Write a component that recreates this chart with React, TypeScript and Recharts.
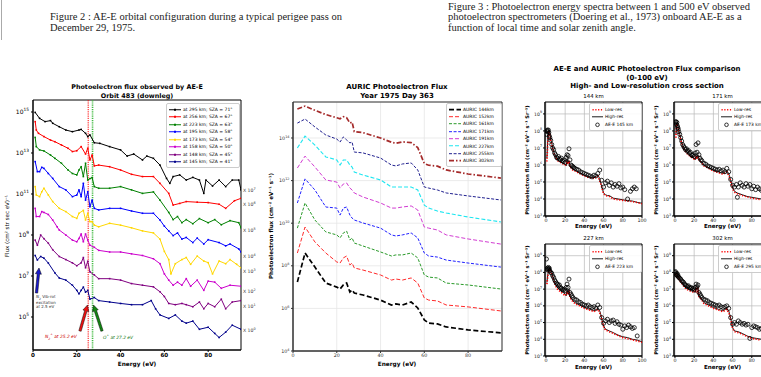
import React from 'react';
import {
  LineChart, Line, XAxis, YAxis, CartesianGrid, ReferenceLine, ReferenceArea,
  ComposedChart, Scatter,
} from 'recharts';

// every point is [energy eV, log10 flux as plotted]
type P = [number, number];

const FONT = '"DejaVu Sans", Verdana, sans-serif';
const SERIF = '"Liberation Serif", "Times New Roman", serif';

// ---------- AE-E orbit 483 (downleg), curves already offset by x10^n ----------
const aee295: P[] = [[1,14.98],[3,14.69],[5.5,14.53],[8,14.58],[9,14.45],[12,14.28],[15,14.12],[18,14.04],[21,14.12],[22,14.15],[24,13.96],[25,13.8],[26,13.88],[28,13.5],[30.5,13.47],[35,13.31],[40,13.15],[43,12.85],[46,12.95],[50,12.66],[52,12.85],[55,12.74],[58,12.41],[61,11.76],[62.5,11.52],[64,11.85],[67,11.93],[70,11.68],[73,11.81],[76,11.68],[78,11.03],[79,11.68],[82,11.39],[85,11.68],[88,11.36],[91,11.68],[94,11.68],[95,11.2]];
const aee256: P[] = [[1,14.53],[1.5,14.12],[2.5,13.96],[5,13.8],[8,13.63],[10,13.55],[13,13.39],[16,13.23],[18,13.07],[20,13.11],[22,13.31],[24,12.95],[25,13.23],[26,12.66],[27,12.9],[28,12.37],[30,12.41],[35,12.33],[40,12.17],[45,11.96],[50,11.85],[55,11.85],[58,11.52],[62,11.03],[64,10.46],[67,10.54],[70,10.63],[75,10.6],[80,10.58],[85,10.5],[88,10.3],[92,10.67],[95,10.79]];
const aee223: P[] = [[1,13.76],[1.5,13.31],[3,13.15],[5,13.1],[8,12.9],[10,12.74],[13,12.5],[16,12.17],[18,12.0],[20,11.93],[21,12.17],[22,12.33],[23,11.85],[24,12.5],[25,11.68],[26,11.75],[27,11.8],[28,11.36],[30,11.28],[35,11.28],[40,11.36],[45,11.2],[50,11.03],[55,11.1],[58,10.7],[62,10.1],[64,9.75],[66,9.9],[68,9.6],[70,9.75],[73,9.55],[76,9.8],[80,9.6],[83,9.75],[86,9.5],[90,9.7],[94,9.6],[95,9.35]];
const aee195: P[] = [[1,12.58],[2,12.09],[3,12.09],[4,12.3],[5,12.25],[7,12.0],[9,11.76],[12,11.36],[15,11.2],[18,10.87],[20,10.95],[21,11.2],[22,10.87],[23,11.52],[24,10.7],[25,11.11],[26,10.38],[27,10.7],[28,10.3],[30,10.22],[35,10.3],[40,10.3],[45,10.17],[50,10.06],[55,10.06],[58,9.73],[60,9.43],[62,9.2],[64,8.97],[66,9.1],[68,8.8],[70,8.88],[73,8.63],[75,8.85],[78,8.56],[80,8.77],[85,8.63],[88,8.47],[90,8.56],[94,8.32],[95,8.17]];
const aee173: P[] = [[1,11.36],[1.5,10.95],[3,10.87],[4,11.11],[5,11.28],[7,10.95],[9,10.63],[12,10.3],[15,10.14],[18,9.9],[20,9.81],[21,10.06],[23,10.2],[24,9.73],[25,10.06],[26,9.65],[27,9.65],[28,9.48],[30,9.4],[35,9.57],[40,9.48],[45,9.35],[50,9.2],[55,9.1],[58,8.8],[60,8.2],[62,7.8],[63,7.1],[65,7.6],[68,7.8],[70,7.9],[72,7.57],[75,7.97],[78,7.73],[80,7.65],[82,7.1],[85,7.73],[88,7.6],[90,7.8],[93,7.57],[95,7.4]];
const aee158: P[] = [[1,10.3],[1.5,9.9],[3,9.9],[4,10.14],[5,10.1],[7,10.0],[9,9.73],[11,9.4],[12,9.24],[15,9.0],[18,8.75],[20,8.67],[21,8.83],[22,9.05],[23,8.67],[24,9.05],[25,8.75],[26,8.5],[28,8.4],[30,8.25],[35,8.17],[40,8.17],[45,8.08],[50,8.0],[55,7.84],[58,7.6],[60,7.1],[62,6.8],[64,6.55],[66,6.7],[68,6.55],[70,6.87],[72,6.5],[75,6.8],[78,6.3],[80,6.75],[83,6.7],[86,6.4],[90,6.55],[95,6.5]];
const aee148: P[] = [[1,8.75],[2,8.5],[3.5,9.0],[5,8.82],[7,8.6],[9,8.28],[12,7.95],[15,7.8],[18,7.64],[20,7.5],[22,7.64],[23,7.9],[24,7.4],[25,7.72],[26,7.2],[28,7.05],[30,6.87],[35,6.87],[40,6.8],[45,6.63],[50,6.55],[55,6.47],[58,6.23],[60,6.0],[62,5.66],[65,5.6],[68,5.66],[70,5.6],[73,5.5],[76,5.73],[78,5.4],[80,5.66],[83,5.5],[86,5.87],[88,5.4],[91,5.73],[95,5.8]];
const aee145: P[] = [[1,8.0],[2,7.78],[3.5,7.95],[5,7.87],[7,7.63],[10,7.15],[12,6.9],[15,6.8],[18,6.55],[20,6.3],[21,6.13],[22,6.3],[23,6.46],[24,6.21],[25,6.3],[26,5.87],[28,5.95],[30,5.8],[35,5.73],[40,5.66],[45,5.6],[50,5.6],[54,5.8],[56,5.4],[58,5.1],[62,4.93],[65,5.1],[68,4.8],[70,4.7],[73,4.8],[76,4.4],[80,4.5],[83,4.2],[85,4.0],[88,4.26],[91,4.6],[95,4.4]];

const LEFT_SERIES = [
  { label: 'at 295 km; SZA = 71°', color: '#000000', data: aee295 },
  { label: 'at 256 km; SZA = 67°', color: '#ff0000', data: aee256 },
  { label: 'at 223 km; SZA = 63°', color: '#008000', data: aee223 },
  { label: 'at 195 km; SZA = 58°', color: '#0000ff', data: aee195 },
  { label: 'at 173 km; SZA = 54°', color: '#ffd700', data: aee173 },
  { label: 'at 158 km; SZA = 50°', color: '#cc00cc', data: aee158 },
  { label: 'at 148 km; SZA = 45°', color: '#800080', data: aee148 },
  { label: 'at 145 km; SZA = 41°', color: '#00008b', data: aee145 },
];
const offsetExp = [7, 6, 5, 4, 3, 2, 1, 0];
const offsetLabelY = [191, 205, 231, 257, 272, 292, 307, 331];

// ---------- AURIC model, year 1975 day 363 ----------
const auricEnergy = [2, 5.5, 10, 15, 20, 21.5, 23, 24.5, 26, 27, 28, 32, 40, 45, 47, 50, 54, 57, 60, 62, 66, 70, 80, 95];
const auric144 = [7.24, 8.6, 7.94, 7.19, 7.0, 6.91, 7.1, 7.19, 6.77, 6.86, 6.72, 6.63, 6.39, 6.16, 6.21, 6.16, 6.3, 6.02, 5.46, 5.31, 5.27, 5.13, 4.99, 4.85];
const auric152 = [8.6, 9.82, 9.12, 8.6, 8.18, 8.13, 8.37, 8.46, 8.04, 8.13, 7.9, 7.8, 7.57, 7.33, 7.38, 7.33, 7.43, 7.19, 6.49, 6.39, 6.35, 6.16, 6.07, 5.88];
const auric161 = [9.77, 10.95, 10.15, 9.59, 9.45, 9.31, 9.54, 9.63, 9.21, 9.31, 9.07, 8.93, 8.65, 8.46, 8.51, 8.51, 8.6, 8.37, 7.57, 7.47, 7.43, 7.19, 7.1, 6.91];
const auric171 = [10.95, 12.08, 11.56, 10.76, 10.71, 10.38, 10.71, 10.76, 10.38, 10.24, 10.15, 10.01, 9.77, 9.45, 9.4, 9.45, 9.54, 9.31, 8.6, 8.46, 8.41, 8.27, 8.13, 7.94];
const auric191 = [12.59, 13.15, 12.64, 12.03, 11.93, 11.65, 11.84, 11.89, 11.65, 11.56, 11.42, 11.23, 10.95, 10.71, 10.71, 10.76, 10.81, 10.62, 9.82, 9.77, 9.68, 9.45, 9.26, 9.02];
const auric227 = [13.53, 14.09, 13.67, 13.11, 12.97, 12.73, 12.97, 12.97, 12.73, 12.64, 12.4, 12.26, 12.03, 11.7, 11.7, 11.7, 11.7, 11.56, 10.85, 10.71, 10.57, 10.48, 10.29, 10.06];
const auric255 = [14.7, 14.89, 14.52, 14.14, 13.95, 13.81, 14.05, 13.91, 13.77, 13.81, 13.34, 13.3, 13.06, 12.73, 12.69, 12.78, 12.83, 12.5, 11.7, 11.65, 11.56, 11.42, 11.28, 11.09];
const auric302 = [15.36, 15.5, 15.3, 15.1, 14.95, 14.9, 15.0, 14.95, 14.7, 14.75, 14.3, 14.25, 14.0, 13.8, 13.75, 13.82, 13.78, 13.55, 12.8, 12.72, 12.68, 12.5, 12.31, 12.12];

const AURIC_SERIES = [
  { label: 'AURIC 144km', color: '#000000', data: auric144, dash: '5 2.5', w: 1.7 },
  { label: 'AURIC 152km', color: '#ff2a2a', data: auric152, dash: '4 2', w: 1 },
  { label: 'AURIC 161km', color: '#2a9a2a', data: auric161, dash: '3 1.6', w: 1 },
  { label: 'AURIC 171km', color: '#2020ff', data: auric171, dash: '3 1.6', w: 1 },
  { label: 'AURIC 191km', color: '#d23cd2', data: auric191, dash: '4 2', w: 1 },
  { label: 'AURIC 227km', color: '#1ee6f0', data: auric227, dash: '4 2', w: 1.1 },
  { label: 'AURIC 255km', color: '#20208f', data: auric255, dash: '3 1.6', w: 1 },
  { label: 'AURIC 302km', color: '#a52a2a', data: auric302, dash: '5 2 1.5 2', w: 1.7 },
];

// ---------- AE-E vs AURIC comparison panels ----------
const hi144: P[] = [[1,6.4],[2,7.6],[3,8.0],[4,7.9],[5,7.5],[6,7.3],[7,7.0],[8,6.8],[9,6.6],[10,6.5],[12,6.3],[15,6.2],[18,6.1],[20,6.05],[21,5.95],[22,6.35],[23,6.1],[24,6.25],[25,5.95],[27,5.85],[28,5.75],[30,5.7],[35,5.55],[40,5.4],[45,5.3],[50,5.25],[54,5.4],[56,5.2],[57,4.95],[59,4.55],[60,4.35],[62,4.25],[64,4.2],[66,4.2],[70,4.05],[75,4.0],[80,3.95],[85,3.9],[90,3.88],[95,3.8],[100,3.75]];
const lo144: P[] = [[1,6.2],[2,7.4],[3,7.9],[4,7.8],[5,7.4],[6,7.2],[8,6.7],[10,6.45],[12,6.25],[15,6.15],[18,6.05],[20,6.0],[22,6.2],[23,6.05],[24,6.15],[25,5.9],[28,5.7],[30,5.65],[35,5.5],[40,5.35],[45,5.25],[50,5.2],[54,5.35],[57,4.9],[60,4.3],[62,4.2],[66,4.15],[70,4.0],[80,3.92],[90,3.85],[100,3.72]];
const obs145: P[] = [[0.5,7.8],[1,8.0],[1.5,8.05],[2,7.95],[2.5,8.05],[3,7.9],[3.5,7.7],[4,7.6],[5,7.45],[6,7.2],[7,7.0],[8,6.9],[9,6.7],[10,6.6],[11,6.45],[12,6.4],[13,6.5],[14,6.35],[15,6.3],[16,6.4],[17,6.25],[18,6.2],[19,6.3],[20,6.15],[21,6.45],[22,6.6],[23,6.55],[24,6.95],[25,6.3],[26,6.0],[27,5.95],[28,5.9],[29,5.85],[30,5.8],[32,5.75],[34,5.7],[36,5.6],[38,5.55],[40,5.5],[42,5.45],[44,5.4],[46,5.35],[48,5.3],[50,5.4],[52,5.35],[54,5.5],[56,5.7],[58,5.1],[60,4.7],[62,4.95],[64,5.05],[66,4.8],[68,4.95],[70,4.7],[72,4.85],[74,4.75],[76,4.9],[78,4.65],[80,4.7],[82,4.55],[85,4.0],[88,4.45],[90,4.6],[92,4.7],[94,4.6]];

const hi171: P[] = [[1,7.8],[1.5,8.4],[2,8.5],[3,8.3],[4,8.0],[5,7.8],[6,7.55],[7,7.35],[8,7.15],[9,7.0],[10,6.9],[12,6.75],[15,6.6],[18,6.45],[20,6.4],[21,6.3],[22,6.55],[23,6.4],[24,6.6],[25,6.35],[27,6.2],[28,6.15],[30,6.0],[35,5.85],[40,5.7],[45,5.6],[50,5.5],[54,5.65],[56,5.5],[57,5.3],[59,4.9],[60,4.65],[62,4.45],[65,4.35],[70,4.25],[75,4.15],[80,4.1],[85,4.05],[90,4.0],[95,3.95],[100,3.9]];
const lo171: P[] = [[1,7.6],[1.5,8.3],[2,8.4],[3,8.2],[4,7.9],[5,7.7],[6,7.45],[8,7.1],[10,6.85],[12,6.7],[15,6.55],[18,6.4],[20,6.35],[22,6.5],[23,6.35],[24,6.55],[25,6.3],[28,6.1],[30,5.95],[35,5.8],[40,5.65],[45,5.55],[50,5.45],[54,5.6],[57,5.25],[60,4.6],[62,4.4],[65,4.3],[70,4.2],[80,4.05],[90,3.95],[100,3.85]];
const obs173: P[] = [[0.5,8.5],[1,8.55],[1.5,8.4],[2,8.5],[2.5,8.3],[3,8.2],[3.5,8.1],[4,7.95],[5,7.8],[6,7.6],[7,7.4],[8,7.2],[9,7.1],[10,7.0],[11,6.9],[12,6.95],[13,6.8],[14,6.85],[15,6.7],[16,6.75],[17,6.6],[18,6.55],[19,6.6],[20,6.5],[21,6.7],[22,7.2],[23,6.75],[24,7.3],[25,6.6],[26,6.4],[27,6.3],[28,6.25],[30,6.1],[32,6.05],[34,5.95],[36,5.9],[38,5.85],[40,5.8],[42,5.75],[44,5.7],[46,5.75],[48,5.65],[50,5.7],[52,5.6],[54,5.8],[56,5.6],[58,5.15],[60,4.8],[62,4.7],[64,4.85],[65,4.1],[66,4.7],[68,4.95],[70,4.8],[72,4.7],[74,4.9],[76,4.75],[78,4.85],[80,4.6],[82,4.75],[84,4.55],[86,4.7],[88,4.6],[90,4.5]];

const hi227: P[] = [[1,7.4],[2,7.9],[3,8.2],[4,8.3],[5,8.15],[6,8.0],[7,7.8],[8,7.6],[9,7.45],[10,7.3],[12,7.1],[15,6.9],[18,6.8],[20,6.7],[21,6.6],[22,6.95],[23,6.75],[24,7.0],[25,6.55],[27,6.4],[28,6.3],[30,6.2],[35,6.05],[40,5.9],[45,5.8],[50,5.7],[54,5.85],[56,5.7],[57,5.5],[59,5.0],[60,4.8],[62,4.6],[66,4.5],[70,4.4],[75,4.25],[80,4.15],[85,4.1],[90,4.0],[95,3.95],[100,3.85]];
const lo227: P[] = [[1,7.3],[2,7.8],[3,8.1],[4,8.2],[5,8.05],[6,7.9],[8,7.5],[10,7.2],[12,7.0],[15,6.85],[18,6.7],[20,6.6],[22,6.85],[23,6.65],[24,6.9],[25,6.5],[28,6.25],[30,6.15],[35,6.0],[40,5.85],[45,5.75],[50,5.65],[54,5.8],[57,5.45],[60,4.75],[62,4.55],[66,4.45],[70,4.35],[80,4.1],[90,3.97],[100,3.82]];
const obs223: P[] = [[0.5,8.8],[1,8.2],[1.5,8.25],[2,8.15],[2.5,8.3],[3,8.2],[3.5,8.25],[4,8.1],[5,8.0],[6,7.95],[7,7.8],[8,7.7],[9,7.55],[10,7.45],[11,7.35],[12,7.3],[13,7.2],[14,7.25],[15,7.1],[16,7.05],[17,7.0],[18,6.95],[19,7.0],[20,6.9],[21,7.1],[22,7.3],[23,7.1],[24,7.6],[25,6.8],[26,6.7],[27,6.6],[28,6.5],[30,6.4],[32,6.35],[34,6.25],[36,6.2],[38,6.1],[40,6.05],[42,6.0],[44,6.05],[46,5.95],[48,5.9],[50,5.95],[52,5.85],[54,6.05],[56,5.9],[58,5.3],[60,4.95],[62,5.1],[64,5.2],[66,5.0],[68,5.1],[70,5.15],[72,4.95],[74,5.05],[76,4.9],[78,4.85],[80,4.6],[82,4.8],[84,4.7],[86,4.85],[88,4.75],[90,4.65],[92,4.7],[95,4.2]];

const hi302: P[] = [[0.5,8.0],[2,7.9],[3,7.8],[5,7.6],[7,7.45],[10,7.2],[12,7.1],[15,7.0],[18,6.95],[20,6.9],[21,6.8],[22,7.1],[23,6.95],[24,7.15],[25,6.6],[27,6.5],[28,6.4],[30,6.2],[35,6.05],[40,5.9],[45,5.8],[50,5.7],[54,5.85],[56,5.7],[57,5.5],[59,5.0],[60,4.7],[62,4.5],[66,4.45],[70,4.35],[75,4.2],[80,4.1],[85,4.05],[90,4.0],[95,3.95],[100,3.9]];
const lo302: P[] = [[0.5,7.9],[2,7.8],[3,7.7],[5,7.5],[7,7.35],[10,7.1],[12,7.0],[15,6.9],[18,6.85],[20,6.8],[22,7.0],[23,6.85],[24,7.05],[25,6.55],[28,6.35],[30,6.15],[35,6.0],[40,5.85],[45,5.75],[50,5.65],[54,5.8],[57,5.45],[60,4.65],[62,4.45],[66,4.4],[70,4.3],[80,4.05],[90,3.95],[100,3.85]];
const obs295: P[] = [[0,8.0],[0.5,8.05],[1,7.9],[1.5,7.85],[2,7.95],[2.5,7.8],[3,7.85],[3.5,7.75],[4,7.7],[5,7.65],[6,7.6],[7,7.5],[8,7.45],[9,7.4],[10,7.3],[11,7.25],[12,7.2],[13,7.15],[14,7.2],[15,7.1],[16,7.05],[17,7.1],[18,7.0],[19,7.05],[20,6.95],[21,7.1],[22,7.3],[23,7.15],[24,7.25],[25,6.8],[26,6.7],[27,6.6],[28,6.5],[30,6.4],[32,6.35],[34,6.3],[36,6.2],[38,6.15],[40,6.1],[42,6.05],[44,6.0],[46,6.05],[48,5.95],[50,5.9],[52,5.95],[54,6.0],[56,5.85],[58,5.3],[60,4.9],[62,5.0],[64,4.9],[66,5.1],[68,5.0],[70,4.9],[72,4.95],[74,4.85],[76,4.9],[78,4.05],[80,4.7],[82,4.8],[84,4.75],[86,4.7],[88,4.6],[90,4.65]];

const PANELS = [
  { title: '144 km', obsLabel: 'AE-E 145 km', hi: hi144, lo: lo144, obs: obs145, col: 0, row: 0 },
  { title: '171 km', obsLabel: 'AE-E 173 km', hi: hi171, lo: lo171, obs: obs173, col: 1, row: 0 },
  { title: '227 km', obsLabel: 'AE-E 223 km', hi: hi227, lo: lo227, obs: obs223, col: 0, row: 1 },
  { title: '302 km', obsLabel: 'AE-E 295 km', hi: hi302, lo: lo302, obs: obs295, col: 1, row: 1 },
];
const energyTicks = [0, 20, 40, 60, 80, 100];
const decadeTicks = [3, 4, 5, 6, 7, 8, 9];

const pts = (a: P[]) => a.map(([x, y]) => ({ x, y }));
const zipPts = (xs: number[], ys: number[]) => xs.map((x, i) => ({ x, y: ys[i] }));

const powTick = (fs: number, fill: string) => (props: any) => {
  const { x, y, payload } = props;
  return (
    <text x={x} y={y} dy={fs * 0.35} textAnchor="end" fontSize={fs} fill={fill} fontFamily={FONT}>
      10<tspan dy={-fs * 0.45} fontSize={fs * 0.72}>{payload.value}</tspan>
    </text>
  );
};

const Txt = ({ x, y, children, size = 6, bold = false, color = '#000', rotate = 0, anchor = 'center', family = FONT, italic = false }: any) => (
  <div
    style={{
      position: 'absolute', left: x, top: y, whiteSpace: 'nowrap', lineHeight: 1,
      fontSize: size, fontWeight: bold ? 'bold' : 'normal', fontStyle: italic ? 'italic' : 'normal',
      color, fontFamily: family,
      transform: `translate(${anchor === 'center' ? '-50%' : '0'}, -50%) rotate(${rotate}deg)`,
      transformOrigin: anchor === 'center' ? '50% 50%' : '0 50%',
    }}
  >
    {children}
  </div>
);

const Legend = ({ x, y, w, rowH, fs, items }: any) => (
  <div
    style={{
      position: 'absolute', left: x, top: y, width: w, padding: '1.5px 0',
      border: '0.7px solid #cccccc', borderRadius: 2, background: 'rgba(255,255,255,0.9)',
      fontFamily: FONT, fontSize: fs, color: '#000', overflow: 'hidden',
    }}
  >
    {items.map((it: any, i: number) => (
      <div key={i} style={{ display: 'flex', alignItems: 'center', height: rowH, whiteSpace: 'nowrap' }}>
        <svg width={it.sw} height={rowH} style={{ marginLeft: 2, marginRight: 2, flex: 'none' }}>{it.sample}</svg>
        <span>{it.label}</span>
      </div>
    ))}
  </div>
);

const arrowPts = (x1: number, y1: number, x2: number, y2: number, sw = 1.2, hw = 3, hl = 6) => {
  const dx = x2 - x1, dy = y2 - y1, L = Math.hypot(dx, dy);
  const ux = dx / L, uy = dy / L, nx = -uy, ny = ux;
  const bx = x2 - ux * hl, by = y2 - uy * hl;
  return [
    [x1 + nx * sw, y1 + ny * sw], [bx + nx * sw, by + ny * sw], [bx + nx * hw, by + ny * hw], [x2, y2],
    [bx - nx * hw, by - ny * hw], [bx - nx * sw, by - ny * sw], [x1 - nx * sw, y1 - ny * sw],
  ].map((p) => p.join(',')).join(' ');
};

const ring = (p: any) => <circle cx={p.cx} cy={p.cy} r={2} fill="none" stroke="#000" strokeWidth={0.8} />;

const LEFT_Y: [number, number] = [3.39, 15.585];
const MID_Y: [number, number] = [4, 15.69];
const RIGHT_Y: [number, number] = [3, 9.7];

export default function App() {
  return (
    <div style={{ position: 'absolute', left: 0, top: 0, width: 761, height: 377, overflow: 'hidden', background: '#fff', fontFamily: FONT }}>
      {/* captions */}
      <div style={{ position: 'absolute', left: 1, top: 0, width: 1, height: 40, background: '#aaa' }} />
      <Txt x={50} y={17} size={10.5} family={SERIF} anchor="left" color="#222">Figure 2 : AE-E orbital configuration during a typical perigee pass on</Txt>
      <Txt x={50} y={27.5} size={10.5} family={SERIF} anchor="left" color="#222">December 29, 1975.</Txt>
      <Txt x={448} y={6.5} size={10.5} family={SERIF} anchor="left" color="#222">Figure 3 : Photoelectron energy spectra between 1 and 500 eV observed</Txt>
      <Txt x={448} y={17} size={10.5} family={SERIF} anchor="left" color="#222">photoelectron spectrometers (Doering et al., 1973) onboard AE-E as a</Txt>
      <Txt x={448} y={27.5} size={10.5} family={SERIF} anchor="left" color="#222">function of local time and solar zenith angle.</Txt>

      {/* ---------- left: AE-E observations ---------- */}
      <div style={{ position: 'absolute', left: 0, top: 0 }}>
        <LineChart width={261} height={377} margin={{ top: 100, right: 20, bottom: 11, left: 0 }}>
          <XAxis type="number" dataKey="x" domain={[0, 95]} ticks={[0, 20, 40, 60, 80]} interval={0} allowDataOverflow height={16}
            tickSize={2} tickMargin={1} stroke="#000" tick={{ fontSize: 5.6, fontWeight: 'bold', fill: '#000', fontFamily: FONT }} />
          <YAxis type="number" dataKey="y" domain={LEFT_Y} ticks={[5, 7, 9, 11, 13, 15]} interval={0} allowDataOverflow width={33}
            tickSize={2} tickMargin={2} stroke="#000" tick={powTick(6, '#000')} />
          <ReferenceLine x={25.2} stroke="#ff0000" strokeWidth={1} strokeDasharray="1.2 1" />
          <ReferenceLine x={27.2} stroke="#44bb44" strokeWidth={1.6} strokeDasharray="1.2 1" />
          {LEFT_SERIES.map((s) => (
            <Line key={s.label} data={pts(s.data)} dataKey="y" stroke={s.color} strokeWidth={1} isAnimationActive={false}
              dot={(p: any) => <rect key={`${s.label}-${p.index}`} x={p.cx - 0.8} y={p.cy - 0.8} width={1.6} height={1.6} fill={s.color} />} />
          ))}
          <ReferenceArea x1={0} x2={95} y1={LEFT_Y[0]} y2={LEFT_Y[1]} fill="none" stroke="#000" strokeWidth={1} ifOverflow="visible" />
        </LineChart>
      </div>
      <Txt x={137} y={87} size={6.4} bold>Photoelectron flux observed by AE-E</Txt>
      <Txt x={137} y={95.5} size={6.4} bold>Orbit 483 (downleg)</Txt>
      <Txt x={8} y={226} size={5.5} rotate={-90}>Flux (cm² str sec eV)⁻¹</Txt>
      <Txt x={137} y={365} size={5.8} bold>Energy (eV)</Txt>
      {offsetExp.map((e, i) => (
        <Txt key={e} x={243} y={offsetLabelY[i]} size={4.6} anchor="left" color="#333">
          X 10<sup style={{ fontSize: 3.4 }}>{e}</sup>
        </Txt>
      ))}
      <Legend x={166} y={103} w={72} rowH={7.5} fs={4.5}
        items={LEFT_SERIES.map((s) => ({
          label: s.label, sw: 12,
          sample: (<g><line x1={0} x2={12} y1={3.75} y2={3.75} stroke={s.color} strokeWidth={1} /><rect x={5} y={2.75} width={2} height={2} fill={s.color} /></g>),
        }))} />
      <svg width={761} height={377} style={{ position: 'absolute', left: 0, top: 0, pointerEvents: 'none' }}>
        <polygon points={arrowPts(36.5, 293, 39, 268)} fill="#1a1acc" stroke="#000" strokeWidth={0.5} />
        <polygon points={arrowPts(80, 331, 87.5, 305)} fill="#ee1111" stroke="#000" strokeWidth={0.5} />
        <polygon points={arrowPts(102, 331, 93.5, 305)} fill="#118811" stroke="#000" strokeWidth={0.5} />
      </svg>
      <Txt x={36} y={298} size={4} anchor="left" color="#333"><i>N</i><sub style={{ fontSize: 3 }}>2</sub> Vib-rot</Txt>
      <Txt x={36} y={302.5} size={4} anchor="left" color="#333">excitation</Txt>
      <Txt x={36} y={306.5} size={4} anchor="left" color="#333">at 2.5 eV</Txt>
      <Txt x={45} y={337} size={4.4} anchor="left" color="#cc0000" italic>N<sub style={{ fontSize: 3 }}>2</sub><sup style={{ fontSize: 3 }}>+</sup> at 25.2 eV</Txt>
      <Txt x={103} y={337} size={4.4} anchor="left" color="#117711" italic>O<sup style={{ fontSize: 3 }}>+</sup> at 27.2 eV</Txt>

      {/* ---------- middle: AURIC model ---------- */}
      <div style={{ position: 'absolute', left: 262, top: 0 }}>
        <LineChart width={250} height={377} margin={{ top: 102, right: 10, bottom: 10, left: 0 }}>
          <CartesianGrid stroke="#e6e6e6" strokeWidth={0.8} />
          <XAxis type="number" dataKey="x" domain={[0, 95.5]} ticks={[0, 20, 40, 60, 80]} interval={0} allowDataOverflow height={16}
            tickSize={2} tickMargin={1} stroke="#333" tick={{ fontSize: 4.8, fill: '#333', fontFamily: FONT }} />
          <YAxis type="number" dataKey="y" domain={MID_Y} ticks={[4, 6, 8, 10, 12, 14]} interval={0} allowDataOverflow width={31}
            tickSize={2} tickMargin={1.5} stroke="#333" tick={powTick(4.8, '#333')} />
          {AURIC_SERIES.map((s) => (
            <Line key={s.label} data={zipPts(auricEnergy, s.data)} dataKey="y" stroke={s.color} strokeWidth={s.w}
              strokeDasharray={s.dash} dot={false} isAnimationActive={false} />
          ))}
          <ReferenceArea x1={0} x2={95.5} y1={MID_Y[0]} y2={MID_Y[1]} fill="none" stroke="#333" strokeWidth={1} ifOverflow="visible" />
        </LineChart>
      </div>
      <Txt x={397} y={87} size={7} bold>AURIC Photoelectron Flux</Txt>
      <Txt x={397} y={96} size={7} bold>Year 1975 Day 363</Txt>
      <Txt x={272} y={226} size={5.6} bold rotate={-90}>Photoelectron flux (cm⁻² eV⁻¹ s⁻¹)</Txt>
      <Txt x={397} y={365} size={5.8} bold>Energy (eV)</Txt>
      <Legend x={446} y={103} w={54} rowH={7.4} fs={4.5}
        items={AURIC_SERIES.map((s) => ({
          label: s.label, sw: 12,
          sample: <line x1={0} x2={12} y1={3.7} y2={3.7} stroke={s.color} strokeWidth={s.w} strokeDasharray={s.dash} />,
        }))} />

      {/* ---------- right: comparison panels ---------- */}
      <Txt x={647} y={69} size={7} bold>AE-E and AURIC Photoelectron Flux comparison</Txt>
      <Txt x={647} y={77.5} size={7} bold>(0-100 eV)</Txt>
      <Txt x={647} y={86} size={7} bold>High- and Low-resolution cross section</Txt>
      {PANELS.map((p) => {
        const left = p.col ? 641 : 512;
        const top = p.row ? 244 : 102;
        const h = p.row ? 372 : 232;
        const cx = left + 33 + 48.5;
        // the right-hand column runs past the page edge, so its 100 eV label is not shown
        const xTicks = p.col ? energyTicks.slice(0, 5) : energyTicks;
        return (
          <React.Fragment key={p.title}>
            <div style={{ position: 'absolute', left, top: 0 }}>
              <ComposedChart width={135} height={h} margin={{ top, right: 5, bottom: 4, left: 0 }}>
                <CartesianGrid stroke="#b8b8b8" strokeWidth={0.7} verticalValues={energyTicks} horizontalValues={decadeTicks} />
                <XAxis type="number" dataKey="x" domain={[-1, 100]} ticks={xTicks} interval={0} allowDataOverflow height={12}
                  tickSize={2} tickMargin={0.5} stroke="#000" tick={{ fontSize: 4.8, fill: '#222', fontFamily: FONT }} />
                <YAxis type="number" dataKey="y" domain={RIGHT_Y} ticks={decadeTicks} interval={0} allowDataOverflow width={33}
                  tickSize={2} tickMargin={1} stroke="#000" tick={powTick(4.6, '#222')} />
                <Line data={pts(p.hi)} dataKey="y" stroke="#000" strokeWidth={0.9} dot={false} isAnimationActive={false} />
                <Line data={pts(p.lo)} dataKey="y" stroke="#ff0000" strokeWidth={1.6} strokeDasharray="1.2 1.6" dot={false} isAnimationActive={false} />
                <Scatter data={pts(p.obs)} dataKey="y" shape={ring} isAnimationActive={false} />
                <ReferenceArea x1={-1} x2={100} y1={RIGHT_Y[0]} y2={RIGHT_Y[1]} fill="none" stroke="#000" strokeWidth={1} ifOverflow="visible" />
              </ComposedChart>
            </div>
            <Txt x={cx} y={top - 5} size={5.4}>{p.title}</Txt>
            <Txt x={cx} y={p.row ? 368 : 227} size={5.6} bold>Energy (eV)</Txt>
            <Txt x={left + 16} y={p.row ? 300 : 160} size={5.1} bold rotate={-90}>Photoelectron flux (cm⁻² eV⁻¹ s⁻¹ Sr⁻¹)</Txt>
            <Legend x={left + 77} y={top + 1} w={p.col ? 43 : 51} rowH={7.6} fs={4.4}
              items={[
                { label: 'Low-res', sw: 11, sample: <line x1={0.5} x2={10.5} y1={3.8} y2={3.8} stroke="#ff0000" strokeWidth={1.6} strokeDasharray="1.2 1.6" /> },
                { label: 'High-res', sw: 11, sample: <line x1={0} x2={11} y1={3.8} y2={3.8} stroke="#000" strokeWidth={0.9} /> },
                { label: p.obsLabel, sw: 11, sample: <circle cx={5.5} cy={3.8} r={1.8} fill="none" stroke="#000" strokeWidth={0.8} /> },
              ]} />
          </React.Fragment>
        );
      })}
    </div>
  );
}
